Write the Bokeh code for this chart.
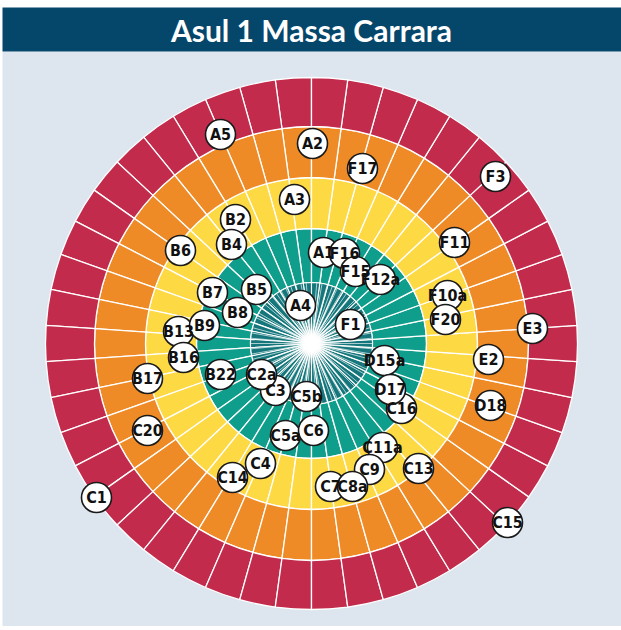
import numpy as np
from bokeh.plotting import figure
from bokeh.models import Range1d, ColumnDataSource
from bokeh.core.properties import value
from bokeh.embed import file_html
from bokeh.resources import INLINE

TITLE = "Asul 1 Massa Carrara"

# ring bands (inner radius, outer radius) and colours, inner to outer
ring_inner = [61, 115, 166, 217]
ring_outer = [115, 166, 217, 266]
ring_colors = ["#0f9e8b", "#fdd944", "#ee8b26", "#c32b4c"]
core_radius = 61
core_color = "#15777c"
n_segments = 46
n_core_rays = 72

# labelled points (x, y relative to the chart centre), in drawing order
labels = ["A5", "A2", "F17", "F3", "A3", "B2", "B4", "B6", "A1", "F16", "F15", "F12a",
          "F11", "B7", "B5", "B8", "A4", "F10a", "F20", "E3", "B13", "B9", "B16", "F1",
          "D15a", "E2", "B17", "B22", "C3", "C2a", "C5b", "C16", "D17", "D18", "C20",
          "C5a", "C6", "C4", "C14", "C11a", "C9", "C13", "C7", "C8a", "C1", "C15"]
label_x = [-91, 1, 51, 184, -17, -76, -80, -131, 12, 33, 44, 69,
           143, -99, -55, -74, -11, 136, 134, 221, -133, -107, -128, 39,
           73, 177, -164, -91, -36, -50, -5, 90, 79, 179, -164,
           -26, 2, -51, -79, 71, 58, 107, 19, 41, -215, 196]
label_y = [209, 200, 175, 167, 144, 124, 99, 93, 91, 90, 72, 64,
           101, 51, 54, 31, 38, 48, 24, 15, 12, 18, -14, 19,
           -17, -16, -35, -31, -47, -31, -53, -65, -46, -62, -87,
           -92, -87, -120, -134, -104, -126, -125, -143, -143, -154, -179]

W, H = 621, 626
p = figure(width=W, height=H, output_backend="svg", toolbar_location=None,
           x_range=Range1d(-311, 310), y_range=Range1d(-283, 343),
           min_border=0, background_fill_color="white", border_fill_color="white")
p.axis.visible = False
p.grid.visible = False
p.outline_line_color = None

# panel background and title bar
p.quad(left=-309, right=310, top=292, bottom=-283, color="#dde5ef", line_color=None)
p.quad(left=-309, right=310, top=336, bottom=292, color="#05476b", line_color=None)
p.text(x=[0], y=[314], text=[TITLE], text_align="center", text_baseline="middle",
       text_color="white", text_font=value("Lato"), text_font_style="bold",
       text_font_size="30px")

# ring segments
step = 2 * np.pi / n_segments
starts = np.pi / 2 + np.arange(n_segments) * step
for ri, ro, c in zip(ring_inner, ring_outer, ring_colors):
    p.annular_wedge(x=0, y=0, inner_radius=ri, outer_radius=ro,
                    start_angle=starts, end_angle=starts + step,
                    fill_color=c, line_color="white", line_width=1.3)

# core
p.wedge(x=0, y=0, radius=core_radius, start_angle=starts, end_angle=starts + step,
        fill_color=core_color, line_color="white", line_width=1.1)
ang = np.arange(n_core_rays) * 2 * np.pi / n_core_rays
p.segment(x0=0, y0=0, x1=core_radius * np.cos(ang), y1=core_radius * np.sin(ang),
          line_color="white", line_width=0.8, line_alpha=0.8)
for s, a in [(40, 0.1), (30, 0.18), (22, 0.3), (14, 0.55), (8, 0.9)]:
    p.scatter(x=[0], y=[0], size=s, fill_color="white", fill_alpha=a, line_color=None)

# labels
src = ColumnDataSource(dict(x=label_x, y=label_y, t=labels))
p.scatter(x="x", y="y", source=src, size=30, fill_color="white",
          line_color="#1a1a1a", line_width=1.6)
p.text(x="x", y="y", text="t", source=src, text_align="center", text_baseline="middle",
       text_color="#111111",
       text_font=value("'DejaVu Sans Condensed', 'Roboto Condensed', 'Liberation Sans Narrow', Roboto, sans-serif"),
       text_font_style="bold", text_font_size="16px")

open("out.html", "w").write(file_html(p, INLINE))
